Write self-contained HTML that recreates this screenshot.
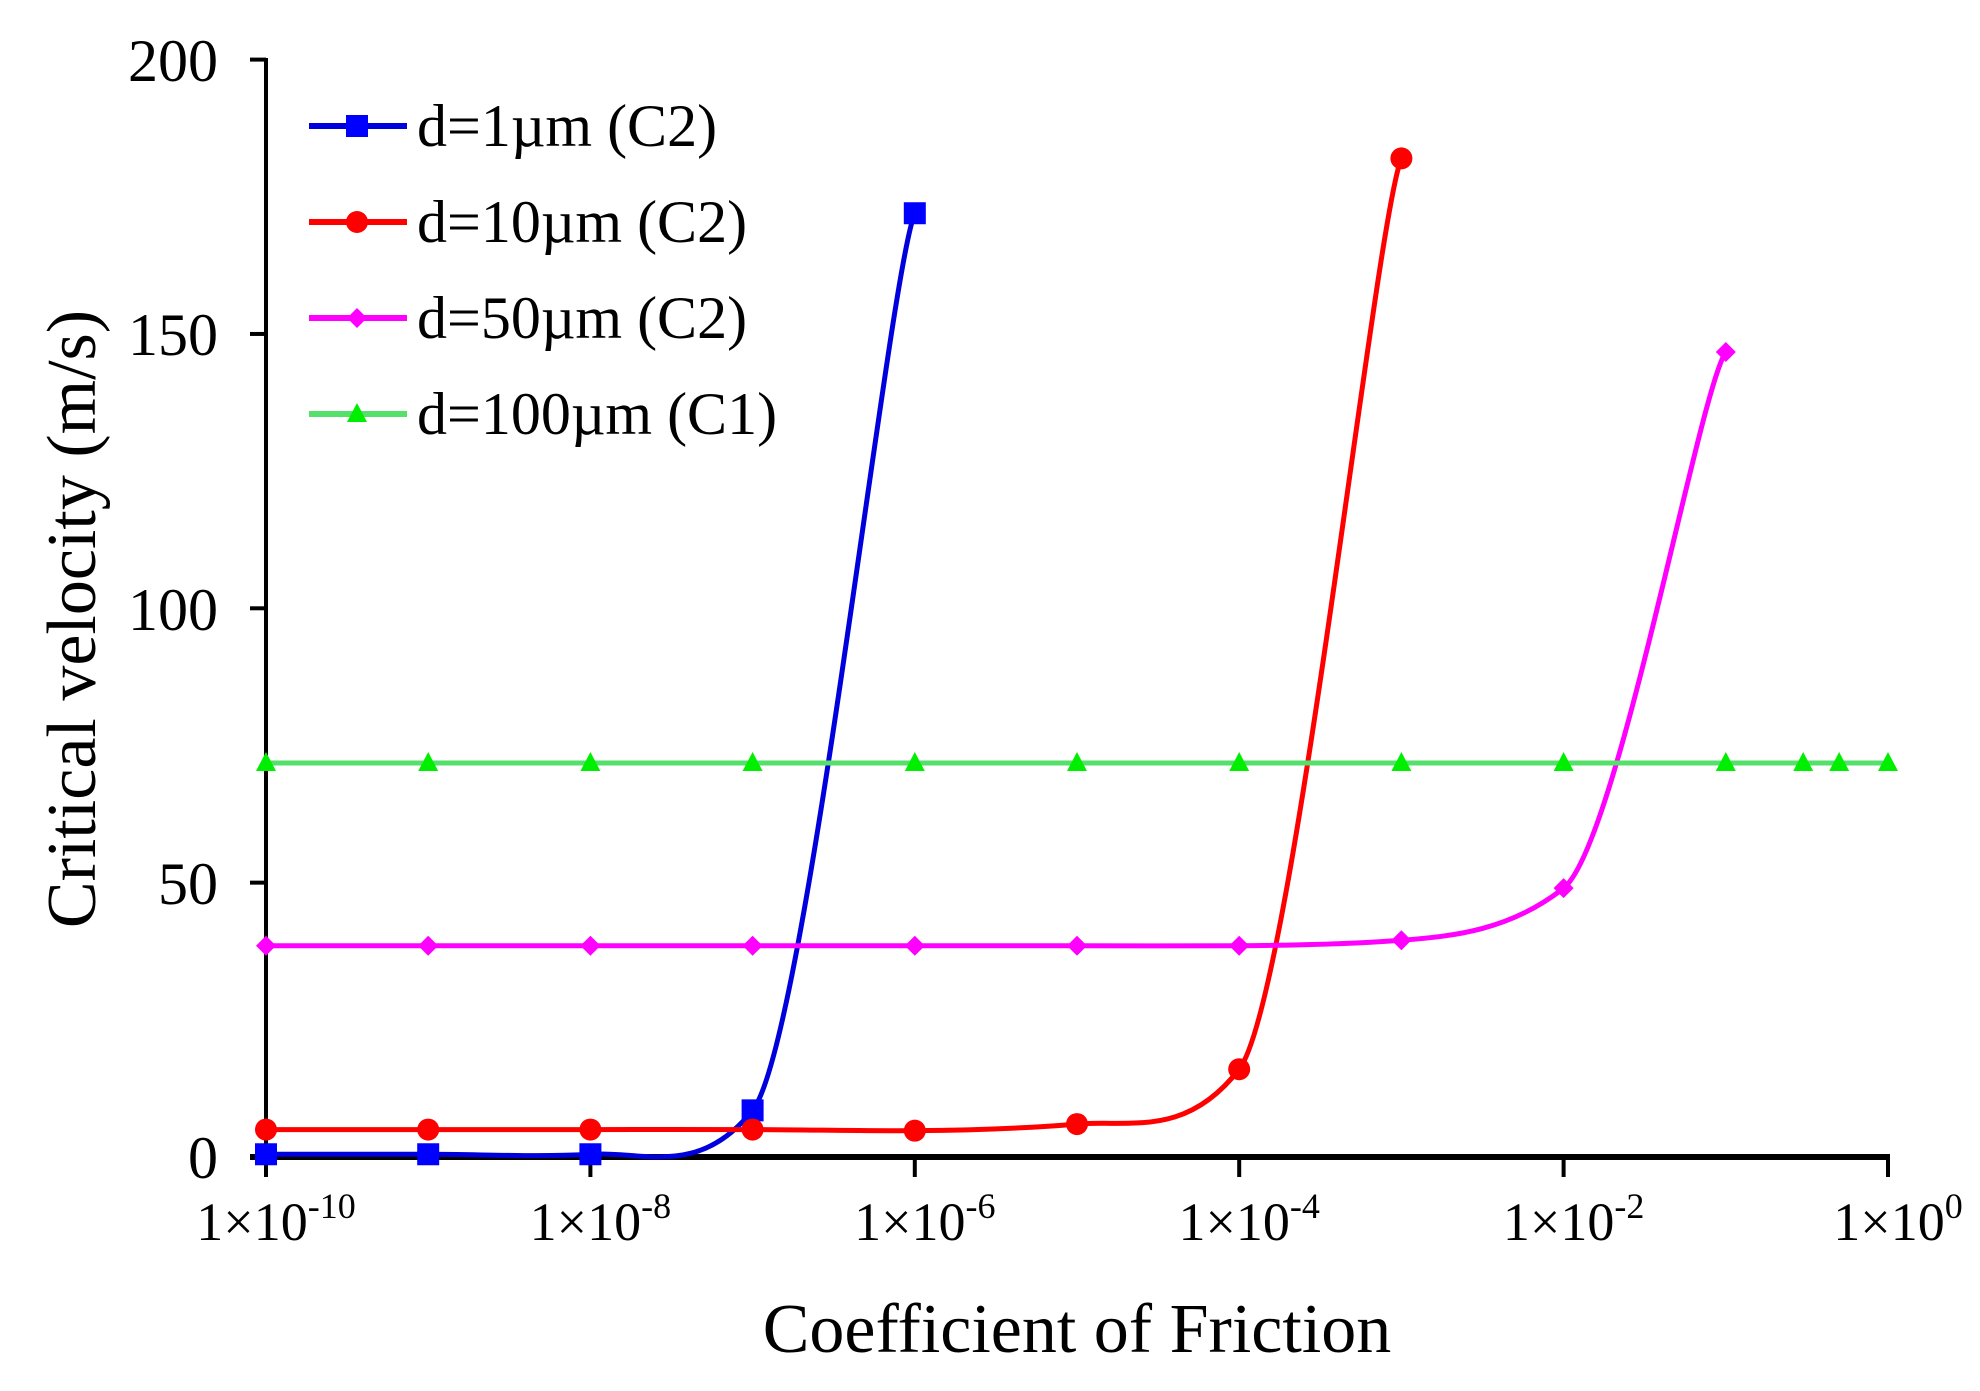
<!DOCTYPE html>
<html><head><meta charset="utf-8"><style>
html,body{margin:0;padding:0;background:#fff;}
svg{display:block;}
text{font-family:"Liberation Serif",serif;fill:#000;}
</style></head><body>
<svg id="s" width="1980" height="1391" viewBox="0 0 1980 1391" xmlns="http://www.w3.org/2000/svg">
<rect width="1980" height="1391" fill="#fff"/>
<g id="axes" stroke="#000" stroke-width="4" fill="none">
<line x1="266" y1="58" x2="266" y2="1159"/>
<line x1="250" y1="1157" x2="1890" y2="1157" stroke-width="6"/>
</g>
<g id="ticks" stroke="#000" stroke-width="4"></g>
<g font-size="60" text-anchor="end">
<text x="218" y="1178">0</text>
<text x="218" y="904">50</text>
<text x="218" y="630">100</text>
<text x="218" y="355">150</text>
<text x="218" y="81">200</text>
</g>
<g id="xl" font-size="54"></g>
<text x="1077" y="1352" font-size="70" text-anchor="middle">Coefficient of Friction</text>
<text transform="translate(95,619) rotate(-90)" font-size="70" text-anchor="middle">Critical velocity (m/s)</text>
<g id="series"></g>
<g font-size="60">
<text x="417" y="146">d=1µm (C2)</text>
<text x="417" y="242">d=10µm (C2)</text>
<text x="417" y="338">d=50µm (C2)</text>
<text x="417" y="434">d=100µm  (C1)</text>
</g>
</svg>
<script>
const NS="http://www.w3.org/2000/svg";
const X=e=>266+(e+10)*162.2, Y=v=>1157-v*5.487;
const ticks=document.getElementById('ticks');
function el(t,a,p){const n=document.createElementNS(NS,t);for(const k in a)n.setAttribute(k,a[k]);p.appendChild(n);return n;}
[0,50,100,150,200].forEach(v=>el('line',{x1:250,x2:266,y1:Y(v),y2:Y(v)},ticks));
const xl=document.getElementById('xl');
for(let e=-10;e<=0;e+=2){el('line',{x1:X(e),x2:X(e),y1:1157,y2:1177},ticks);
 const t=el('text',{x:X(e)+10,y:1240,'text-anchor':'middle'},xl);
 t.textContent='1×10';const s=el('tspan',{'font-size':'36',dy:'-22'},t);s.textContent=String(e);}
const S=[
 {c:'#0000ff',lc:'#0000dd',m:'sq',p:[[-10,.5],[-9,.5],[-8,.5],[-7,8.5],[-6,172]]},
 {c:'#ff0000',lc:'#ff0000',m:'ci',p:[[-10,5],[-9,5],[-8,5],[-7,5],[-6,4.8],[-5,6],[-4,16],[-3,182]]},
 {c:'#ff00ff',lc:'#ff00ff',m:'di',p:[[-10,38.5],[-9,38.5],[-8,38.5],[-7,38.5],[-6,38.5],[-5,38.5],[-4,38.5],[-3,39.5],[-2,49],[-1,146.7]]},
 {c:'#00ee00',lc:'#55e06b',m:'tr',p:[[-10,71.8],[-9,71.8],[-8,71.8],[-7,71.8],[-6,71.8],[-5,71.8],[-4,71.8],[-3,71.8],[-2,71.8],[-1,71.8],[Math.log10(.3),71.8],[Math.log10(.5),71.8],[0,71.8]]}
];
const g=document.getElementById('series');
function marker(m,x,y,c){
 if(m==='sq')el('rect',{x:x-11,y:y-11,width:22,height:22,fill:c},g);
 else if(m==='ci')el('circle',{cx:x,cy:y,r:11,fill:c},g);
 else if(m==='di')el('polygon',{points:`${x},${y-10} ${x+10},${y} ${x},${y+10} ${x-10},${y}`,fill:c},g);
 else el('polygon',{points:`${x},${y-11} ${x+10},${y+8} ${x-10},${y+8}`,fill:c},g);
}
S.forEach(s=>{
 const P=s.p.map(([e,v])=>[X(e),Y(v)]);
 let d=`M${P[0][0]},${P[0][1]}`;
 const k=1/14;
 for(let i=0;i<P.length-1;i++){
  const p0=P[Math.max(0,i-1)],p1=P[i],p2=P[i+1],p3=P[Math.min(P.length-1,i+2)];
  const c1=[p1[0]+(p2[0]-p0[0])*k*2.3,p1[1]+(p2[1]-p0[1])*k];
  const c2=[p2[0]-(p3[0]-p1[0])*k*2.3,p2[1]-(p3[1]-p1[1])*k];
  d+=` C${c1[0]},${c1[1]} ${c2[0]},${c2[1]} ${p2[0]},${p2[1]}`;
 }
 el('path',{d,fill:'none',stroke:s.lc,'stroke-width':5},g);
 P.forEach(p=>marker(s.m,p[0],p[1],s.c));
});
[[126,0],[222,1],[318,2],[414,3]].forEach(([y,i])=>{
 el('line',{x1:309,x2:407,y1:y,y2:y,stroke:S[i].lc,'stroke-width':6},g);
 marker(S[i].m,357,y,S[i].c);
});
</script>
</body></html>
